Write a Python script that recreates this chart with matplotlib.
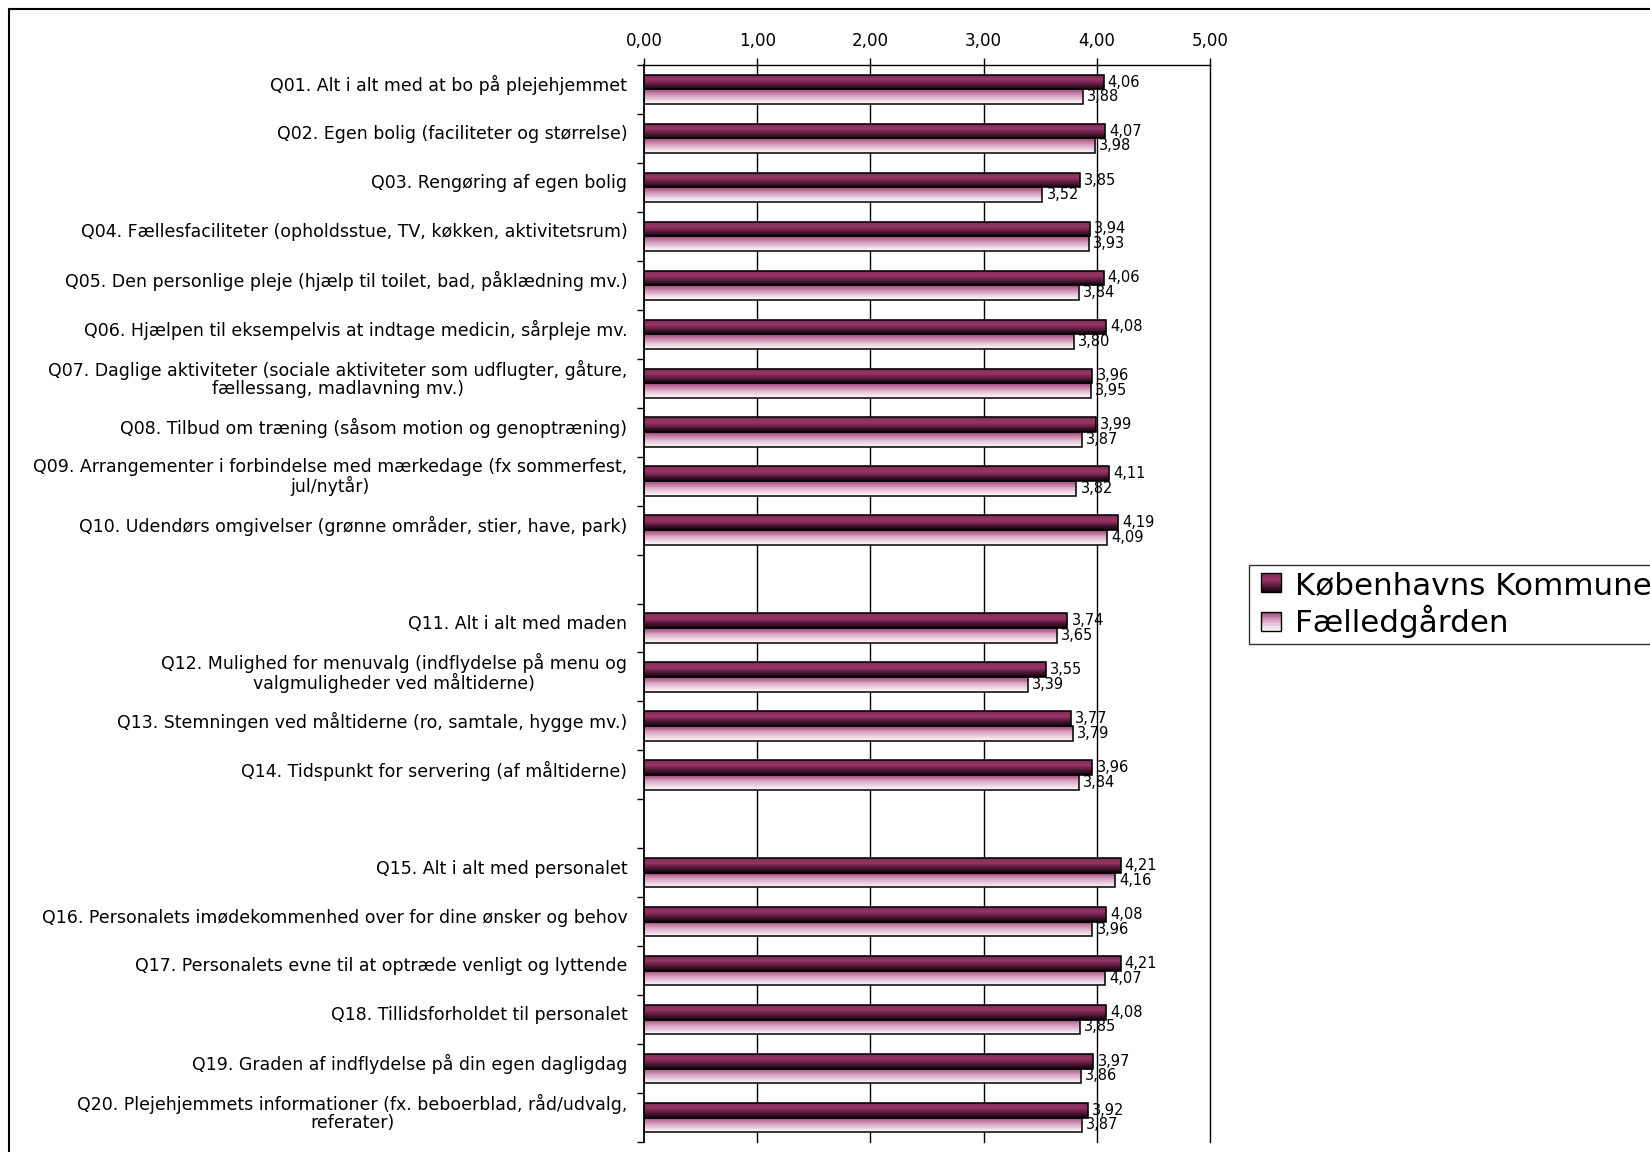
import numpy as np
import matplotlib
matplotlib.use("Agg")
import matplotlib.pyplot as plt
import matplotlib.transforms as mtransforms
from matplotlib.colors import LinearSegmentedColormap
from matplotlib.patches import Patch, Rectangle
from matplotlib.legend_handler import HandlerBase

# Survey questions, in display order (three groups separated by an empty row)
questions = [
    "Q01. Alt i alt med at bo på plejehjemmet",
    "Q02. Egen bolig (faciliteter og størrelse)",
    "Q03. Rengøring af egen bolig",
    "Q04. Fællesfaciliteter (opholdsstue, TV, køkken, aktivitetsrum)",
    "Q05. Den personlige pleje (hjælp til toilet, bad, påklædning mv.)",
    "Q06. Hjælpen til eksempelvis at indtage medicin, sårpleje mv.",
    "Q07. Daglige aktiviteter (sociale aktiviteter som udflugter, gåture,\nfællessang, madlavning mv.)",
    "Q08. Tilbud om træning (såsom motion og genoptræning)",
    "Q09. Arrangementer i forbindelse med mærkedage (fx sommerfest,\njul/nytår)",
    "Q10. Udendørs omgivelser (grønne områder, stier, have, park)",
    "Q11. Alt i alt med maden",
    "Q12. Mulighed for menuvalg (indflydelse på menu og\nvalgmuligheder ved måltiderne)",
    "Q13. Stemningen ved måltiderne (ro, samtale, hygge mv.)",
    "Q14. Tidspunkt for servering (af måltiderne)",
    "Q15. Alt i alt med personalet",
    "Q16. Personalets imødekommenhed over for dine ønsker og behov",
    "Q17. Personalets evne til at optræde venligt og lyttende",
    "Q18. Tillidsforholdet til personalet",
    "Q19. Graden af indflydelse på din egen dagligdag",
    "Q20. Plejehjemmets informationer (fx. beboerblad, råd/udvalg,\nreferater)",
]
group_sizes = [10, 4, 6]

kommune = [4.06, 4.07, 3.85, 3.94, 4.06, 4.08, 3.96, 3.99, 4.11, 4.19,
           3.74, 3.55, 3.77, 3.96,
           4.21, 4.08, 4.21, 4.08, 3.97, 3.92]
faelled = [3.88, 3.98, 3.52, 3.93, 3.84, 3.80, 3.95, 3.87, 3.82, 4.09,
           3.65, 3.39, 3.79, 3.84,
           4.16, 3.96, 4.07, 3.85, 3.86, 3.87]

series_names = ["Københavns Kommune", "Fælledgården"]
x_ticks = [0, 1, 2, 3, 4, 5]

# gradient fills (top -> bottom of each bar)
cmap_dark = LinearSegmentedColormap.from_list(
    "dark", [(0, "#7e2e58"), (0.35, "#993366"), (1, "#170410")])
cmap_light = LinearSegmentedColormap.from_list(
    "light", [(0, "#a3477a"), (0.45, "#d9a7c2"), (1, "#fdf8fb")])


def comma(v):
    return f"{v:.2f}".replace(".", ",")


class GradientHandler(HandlerBase):
    """Legend square (right-aligned in the handle box) with a vertical gradient."""
    def __init__(self, cmap, n=12):
        super().__init__()
        self.cmap = cmap
        self.n = n

    def create_artists(self, legend, orig_handle, xdescent, ydescent,
                       width, height, fontsize, trans):
        arts = []
        x0 = -xdescent + width - height
        h = height / self.n
        for i in range(self.n):
            r = Rectangle((x0, -ydescent + height - (i + 1) * h), height, h,
                          facecolor=self.cmap(i / (self.n - 1)), edgecolor="none",
                          transform=trans)
            arts.append(r)
        arts.append(Rectangle((x0, -ydescent), height, height,
                              facecolor="none", edgecolor="black", lw=1,
                              transform=trans))
        return arts


def gradient_barh(ax, centers, values, height, cmap, n=16):
    """Horizontal bars filled with a top-to-bottom gradient (stacked thin strips)."""
    centers = np.asarray(centers, dtype=float)
    top = centers - height / 2          # y axis is inverted: smaller y is on top
    sh = height / n
    for i in range(n):
        c = cmap(i / (n - 1))
        ax.barh(top + (i + 0.5) * sh, values, height=sh, color=c,
                edgecolor=c, lw=0.3, zorder=3)
    ax.barh(centers, values, height=height, facecolor="none",
            edgecolor="black", lw=1.1, zorder=4)


# slot positions with one empty slot between groups
positions = []
start = 0
for size in group_sizes:
    positions.extend(range(start, start + size))
    start += size + 1
positions = np.array(positions)
n_slots = start - 1

plt.rcParams["font.family"] = ["DejaVu Sans"]

fig = plt.figure(figsize=(16.5, 11.52), dpi=100)
ax = fig.add_axes([644 / 1650, 1 - 1142 / 1152, (1210 - 644) / 1650, (1142 - 65) / 1152])

bh = 0.3
gradient_barh(ax, positions - bh / 2, kommune, bh, cmap_dark)
gradient_barh(ax, positions + bh / 2, faelled, bh, cmap_light)

for pos, vk, vf in zip(positions, kommune, faelled):
    ax.annotate(comma(vk), (vk, pos - bh / 2), xytext=(3, 0),
                textcoords="offset points", va="center", ha="left", fontsize=10.5)
    ax.annotate(comma(vf), (vf, pos + bh / 2), xytext=(3, 0),
                textcoords="offset points", va="center", ha="left", fontsize=10.5)

ax.set_xlim(0, 5)
ax.set_ylim(n_slots - 0.5, -0.5)

# vertical gridlines
for t in x_ticks[1:]:
    ax.axvline(t, color="black", lw=1, zorder=2, clip_on=False)

# x axis on top
ax.xaxis.tick_top()
ax.set_xticks(x_ticks)
ax.set_xticklabels([comma(t) for t in x_ticks], fontsize=12)
ax.tick_params(axis="x", direction="out", length=5, width=1, pad=6)

# y: boundary ticks (major), labels at slot centres (minor)
ax.set_yticks(np.arange(-0.5, n_slots, 1))
ax.set_yticklabels([])
ax.tick_params(axis="y", which="major", direction="out", length=5, width=1)
ax.set_yticks(positions, minor=True)
ylabels = ax.set_yticklabels(questions, minor=True, fontsize=12.5,
                             multialignment="center", va="center", linespacing=1.0)
ax.tick_params(axis="y", which="minor", length=0, pad=12)
lift = mtransforms.ScaledTranslation(0, 3 / 72, fig.dpi_scale_trans)
for lab in ax.get_yticklabels(minor=True):
    lab.set_transform(lab.get_transform() + lift)

for s in ["right", "bottom"]:
    ax.spines[s].set_visible(False)
ax.spines["left"].set_linewidth(1.3)
ax.spines["top"].set_linewidth(1.0)
ax.spines["left"].set_zorder(5)

# legend
handles = [Patch(label=series_names[0]), Patch(label=series_names[1])]
fig.legend(handles=handles, loc="upper left",
           bbox_to_anchor=(1249 / 1650, 1 - 565 / 1152), borderaxespad=0,
           fontsize=22.3, frameon=True, fancybox=False, edgecolor="black",
           handlelength=0.84, handleheight=0.58, handletextpad=0.45,
           borderpad=0.18, labelspacing=0.18,
           handler_map={handles[0]: GradientHandler(cmap_dark),
                        handles[1]: GradientHandler(cmap_light)})
fig.legends[0].get_frame().set_linewidth(1.0)

# outer chart border
fig.patches.append(Rectangle((8.5 / 1650, -0.1), 1.2, 1.1 - 8.5 / 1152,
                             transform=fig.transFigure, fill=False,
                             edgecolor="black", lw=1.5))

fig.savefig("out.png", dpi=100)
